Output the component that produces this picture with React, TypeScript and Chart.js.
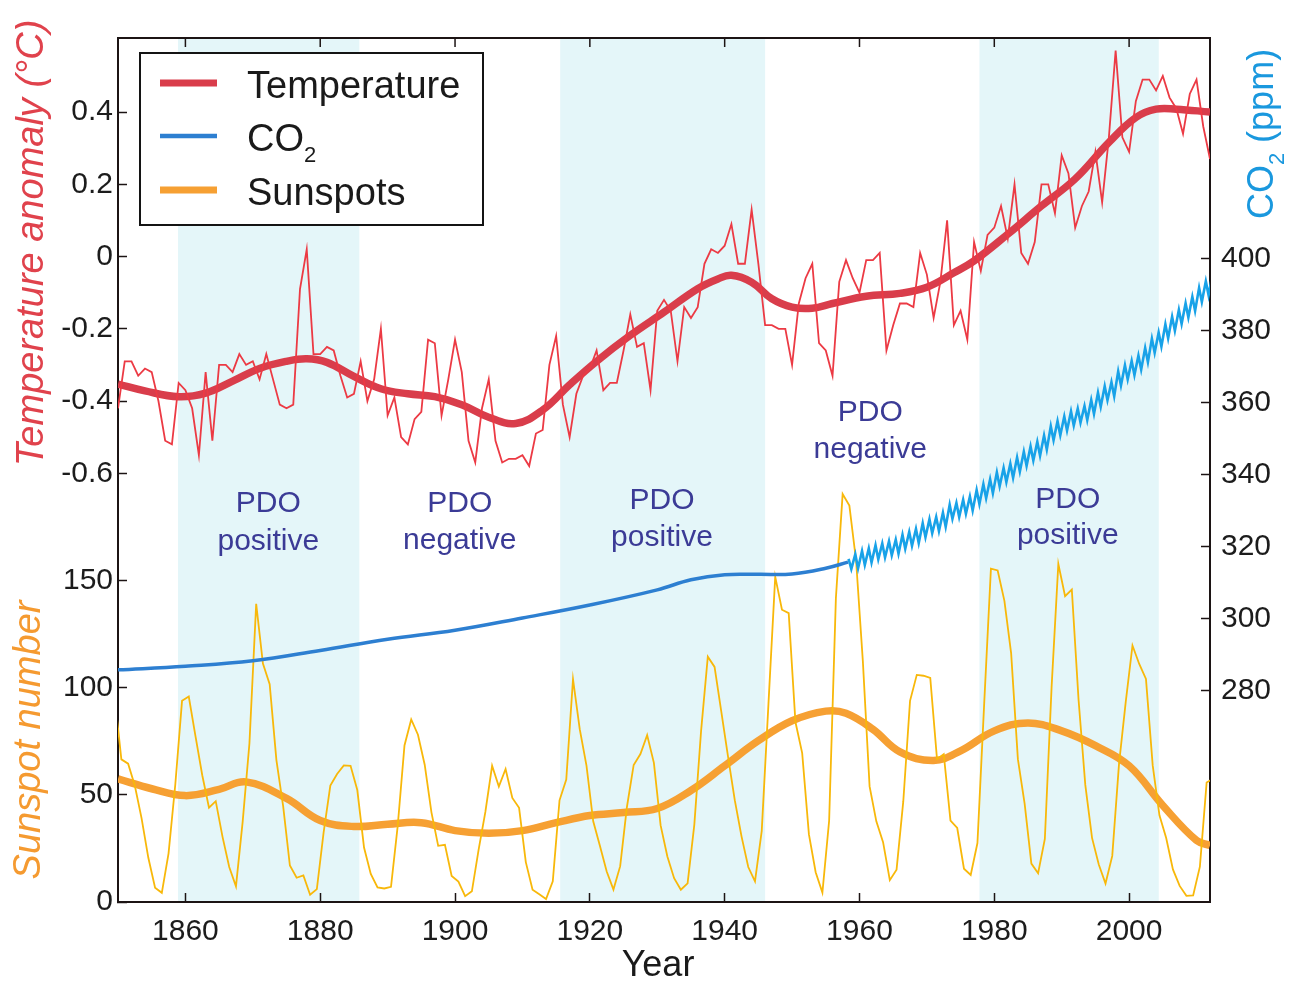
import React, { useEffect, useRef } from "react";
import { Chart, registerables } from "chart.js";

Chart.register(...registerables);

const FONT = '"Liberation Sans", Arial, Helvetica, sans-serif';

// ---------------- data ----------------
const temperatureStartYear = 1850;
const temperatureAnomaly = [
  -0.42, -0.29, -0.29, -0.33, -0.31, -0.32, -0.40, -0.51, -0.52, -0.35,
  -0.37, -0.42, -0.55, -0.32, -0.51, -0.30, -0.30, -0.32, -0.27, -0.30,
  -0.29, -0.34, -0.27, -0.34, -0.41, -0.42, -0.41, -0.09, 0.02, -0.27,
  -0.27, -0.25, -0.26, -0.33, -0.39, -0.38, -0.29, -0.40, -0.34, -0.20,
  -0.44, -0.39, -0.50, -0.52, -0.45, -0.43, -0.23, -0.24, -0.44, -0.34,
  -0.23, -0.32, -0.51, -0.57, -0.42, -0.34, -0.51, -0.57, -0.56, -0.56,
  -0.55, -0.58, -0.49, -0.48, -0.30, -0.22, -0.41, -0.50, -0.38, -0.33,
  -0.31, -0.26, -0.37, -0.35, -0.35, -0.26, -0.16, -0.25, -0.24, -0.37,
  -0.15, -0.12, -0.15, -0.29, -0.14, -0.17, -0.14, -0.02, 0.02, 0.01,
  0.03, 0.09, -0.02, -0.02, 0.13, -0.02, -0.19, -0.19, -0.20, -0.20,
  -0.30, -0.13, -0.06, -0.02, -0.24, -0.26, -0.33, -0.07, -0.01, -0.06,
  -0.10, -0.01, -0.01, 0.01, -0.26, -0.19, -0.13, -0.13, -0.14, 0.01,
  -0.05, -0.17, -0.07, 0.10, -0.19, -0.15, -0.23, 0.04, -0.04, 0.06,
  0.08, 0.14, 0.05, 0.20, 0.01, -0.02, 0.04, 0.20, 0.20, 0.12,
  0.28, 0.23, 0.08, 0.14, 0.18, 0.29, 0.15, 0.33, 0.57, 0.33,
  0.29, 0.43, 0.49, 0.49, 0.46, 0.50, 0.44, 0.41, 0.34, 0.45,
  0.49, 0.36, 0.27,
];

const temperatureSmoothYears = [
  1850, 1854, 1859, 1863, 1867, 1871, 1875, 1878, 1881, 1885, 1889, 1893, 1897, 1901,
  1905, 1909, 1913, 1917, 1921, 1926, 1931, 1936, 1939, 1941, 1944, 1947, 1950, 1953,
  1956, 1961, 1966, 1970, 1974, 1977, 1982, 1987, 1992, 1997, 2001, 2004, 2007, 2012,
];
const temperatureSmooth = [
  -0.353, -0.372, -0.388, -0.378, -0.345, -0.31, -0.29, -0.283, -0.293, -0.332, -0.366, -0.38, -0.388, -0.41,
  -0.445, -0.462, -0.425, -0.355, -0.29, -0.218, -0.154, -0.089, -0.062, -0.052, -0.071, -0.117, -0.14, -0.143,
  -0.13, -0.11, -0.102, -0.085, -0.045, -0.012, 0.062, 0.14, 0.215, 0.316, 0.385, 0.408, 0.408, 0.40,
];

const co2IceYears = [1850, 1860, 1870, 1880, 1890, 1900, 1910, 1920, 1930, 1935, 1940, 1945, 1950, 1955, 1958.3];
const co2Ice = [285.8, 286.8, 288.3, 291.2, 294.3, 296.8, 300.2, 303.8, 308.0, 310.8, 312.2, 312.3, 312.4, 314.0, 315.7];

const co2MaunaLoaStartYear = 1958;
const co2MaunaLoaPeaks = [
  316.6, 317.9, 318.8, 319.5, 320.4, 320.9, 321.5, 321.9, 323.3, 324.1,
  324.9, 326.5, 327.6, 328.2, 329.4, 331.6, 332.1, 333.0, 333.9, 335.7,
  337.3, 338.7, 340.6, 341.8, 343.0, 344.7, 346.3, 347.8, 349.1, 350.8,
  353.4, 354.8, 356.1, 357.5, 358.3, 359.0, 360.7, 362.7, 364.5, 365.6,
  368.6, 370.3, 371.5, 373.0, 375.1, 377.7, 379.4, 381.7, 383.8, 385.7,
  387.5, 389.3, 391.8, 393.6, 395.8,
];
const co2MaunaLoaTroughs = [
  313.8, 314.0, 314.9, 315.6, 316.5, 317.0, 317.6, 318.0, 319.4, 320.2,
  321.0, 322.6, 323.7, 324.3, 325.5, 327.7, 328.2, 329.1, 330.0, 331.8,
  333.4, 334.8, 336.7, 337.9, 339.1, 340.8, 342.4, 343.9, 345.2, 346.9,
  349.5, 350.9, 352.2, 353.6, 354.4, 355.1, 356.8, 358.8, 360.6, 361.7,
  364.7, 366.4, 367.6, 369.1, 371.2, 373.8, 375.5, 377.8, 379.9, 381.8,
  383.6, 385.4, 387.9, 389.7, 391.9,
];

const sunspotStartYear = 1849;
const sunspotNumbers = [
  95.8,
  66.5, 64.5, 54.2, 39.0, 20.6, 6.7, 4.3, 22.7, 54.8, 93.8,
  95.8, 77.2, 59.1, 44.0, 47.0, 30.5, 16.3, 7.3, 37.6, 74.0,
  139.0, 111.2, 101.6, 66.2, 44.7, 17.0, 11.3, 12.4, 3.4, 6.0,
  32.3, 54.3, 59.7, 63.7, 63.5, 52.2, 25.4, 13.1, 6.8, 6.3,
  7.1, 35.6, 73.0, 85.1, 78.0, 64.0, 41.8, 26.2, 26.7, 12.1,
  9.5, 2.7, 5.0, 24.4, 42.0, 63.5, 53.8, 62.0, 48.5, 43.9,
  18.6, 5.7, 3.6, 1.4, 9.6, 47.4, 57.1, 103.9, 80.6, 63.6,
  37.6, 26.1, 14.2, 5.8, 16.7, 44.3, 63.9, 69.0, 77.8, 64.9,
  35.7, 21.2, 11.1, 5.7, 8.7, 36.1, 79.7, 114.4, 109.6, 88.8,
  67.8, 47.5, 30.6, 16.3, 9.6, 33.2, 92.6, 151.6, 136.3, 134.7,
  83.9, 69.4, 31.5, 13.9, 4.4, 38.0, 141.7, 190.2, 184.8, 159.0,
  112.3, 53.9, 37.6, 27.9, 10.2, 15.1, 47.0, 93.8, 105.9, 105.5,
  104.5, 66.6, 68.9, 38.0, 34.5, 15.5, 12.6, 27.5, 92.5, 155.4,
  154.6, 140.4, 115.9, 66.6, 45.9, 17.9, 13.4, 29.4, 100.2, 157.6,
  142.6, 145.7, 94.3, 54.6, 29.9, 17.5, 8.6, 21.5, 64.3, 93.3,
  119.6, 111.0, 104.0, 63.7, 40.4, 29.8, 15.2, 7.5, 2.9, 3.1,
  16.5, 55.7, 57.6,
];

const sunspotSmoothYears = [
  1850, 1855, 1860, 1865, 1869, 1875, 1880, 1885, 1890, 1895, 1900, 1905, 1910, 1915,
  1920, 1925, 1930, 1935, 1940, 1945, 1950, 1955, 1958, 1962, 1966, 1971, 1975, 1980,
  1985, 1990, 1995, 2000, 2005, 2010, 2012,
];
const sunspotSmooth = [
  57.4, 52.8, 49.6, 52.5, 56.0, 48.3, 38.0, 35.2, 36.3, 37.0, 33.3, 32.0, 33.3, 37.0,
  40.3, 41.7, 43.6, 52.0, 63.5, 75.2, 84.5, 89.0, 88.0, 80.5, 70.0, 66.0, 70.5, 79.8,
  83.5, 79.8, 72.9, 63.5, 45.0, 28.7, 26.4,
];

const yearTicks = [1860, 1880, 1900, 1920, 1940, 1960, 1980, 2000];
const temperatureTicks = [-0.6, -0.4, -0.2, 0, 0.2, 0.4];
const sunspotTicks = [0, 50, 100, 150];
const co2Ticks = [280, 300, 320, 340, 360, 380, 400];

const pdoBands = [
  [1858.9, 1885.8],
  [1915.6, 1946.0],
  [1977.8, 2004.4],
];

// annotation layout: year for x, CO2-axis level for the two text baselines
const pdoLabels = [
  { year: 1872.3, phase: "positive", top: 329.5, bottom: 319.0 },
  { year: 1900.7, phase: "negative", top: 329.5, bottom: 319.3 },
  { year: 1930.7, phase: "positive", top: 330.3, bottom: 320.1 },
  { year: 1961.6, phase: "negative", top: 354.9, bottom: 344.7 },
  { year: 1990.9, phase: "positive", top: 330.6, bottom: 320.7 },
];

// ---------------- styles ----------------
const AXIS_COLOR = "#1c1414";
const TICK_TEXT = "#1c1c1c";
const BAND_COLOR = "#e4f6f9";
const RED_THIN = "#ec3a44";
const RED_THICK = "#d93d4b";
const YELLOW_THIN = "#f8b80a";
const ORANGE_THICK = "#f6a033";
const BLUE_ICE = "#2d7fd1";
const BLUE_ML = "#18a2e8";
const PDO_COLOR = "#3b3b96";

function setTicks(values: number[]) {
  return (scale: any) => {
    scale.ticks = values.map((v) => ({ value: v }));
  };
}

function drawSubText(ctx: CanvasRenderingContext2D, parts: { t: string; sub?: boolean }[], x: number, y: number, size: number, subSize: number, align: "left" | "center") {
  const widths = parts.map((p) => {
    ctx.font = `${p.sub ? subSize : size}px ${FONT}`;
    return ctx.measureText(p.t).width;
  });
  const total = widths.reduce((a, b) => a + b, 0);
  let cx = align === "center" ? x - total / 2 : x;
  ctx.textAlign = "left";
  parts.forEach((p, i) => {
    ctx.font = `${p.sub ? subSize : size}px ${FONT}`;
    ctx.fillText(p.t, cx, p.sub ? y + size * 0.3 : y);
    cx += widths[i];
  });
}

const decorPlugin = {
  id: "decor",
  beforeDraw(chart: any) {
    const { ctx, chartArea: a, scales } = chart;
    ctx.save();
    ctx.fillStyle = BAND_COLOR;
    for (const [s, e] of pdoBands) {
      const x0 = scales.x.getPixelForValue(s);
      const x1 = scales.x.getPixelForValue(e);
      ctx.fillRect(x0, a.top, x1 - x0, a.bottom - a.top);
    }
    ctx.restore();
  },
  afterDraw(chart: any) {
    const { ctx, chartArea: a, scales } = chart;
    ctx.save();
    // top frame and top tick marks
    ctx.strokeStyle = AXIS_COLOR;
    ctx.lineWidth = 2;
    ctx.beginPath();
    ctx.moveTo(a.left - 1, a.top);
    ctx.lineTo(a.right + 1, a.top);
    ctx.stroke();
    ctx.lineWidth = 1.5;
    for (const v of yearTicks) {
      const px = scales.x.getPixelForValue(v);
      ctx.beginPath();
      ctx.moveTo(px, a.top);
      ctx.lineTo(px, a.top + 9);
      ctx.stroke();
    }

    // PDO labels
    ctx.fillStyle = PDO_COLOR;
    ctx.font = `30px ${FONT}`;
    ctx.textAlign = "center";
    ctx.textBaseline = "alphabetic";
    for (const l of pdoLabels) {
      const px = scales.x.getPixelForValue(l.year);
      ctx.fillText("PDO", px, scales.yC.getPixelForValue(l.top));
      ctx.fillText(l.phase, px, scales.yC.getPixelForValue(l.bottom));
    }

    // legend
    ctx.fillStyle = "#ffffff";
    ctx.fillRect(140, 53, 343, 172);
    ctx.strokeStyle = "#141414";
    ctx.lineWidth = 2;
    ctx.strokeRect(140, 53, 343, 172);
    const legendRows = [
      { color: RED_THICK, width: 7, y: 83, parts: [{ t: "Temperature" }] },
      { color: BLUE_ICE, width: 4.5, y: 136, parts: [{ t: "CO" }, { t: "2", sub: true }] },
      { color: ORANGE_THICK, width: 7, y: 190, parts: [{ t: "Sunspots" }] },
    ];
    for (const r of legendRows) {
      ctx.strokeStyle = r.color;
      ctx.lineWidth = r.width;
      ctx.beginPath();
      ctx.moveTo(160, r.y);
      ctx.lineTo(217, r.y);
      ctx.stroke();
      ctx.fillStyle = "#1a1a1a";
      drawSubText(ctx, r.parts, 247, r.y + 15, 38, 22, "left");
    }

    // axis titles
    ctx.fillStyle = "#e0424c";
    ctx.font = `italic 38px ${FONT}`;
    ctx.textAlign = "center";
    ctx.save();
    ctx.translate(43, 243);
    ctx.rotate(-Math.PI / 2);
    ctx.fillText("Temperature anomaly (\u00B0C)", 0, 0);
    ctx.restore();

    ctx.fillStyle = "#f59a30";
    ctx.save();
    ctx.translate(40, 740);
    ctx.rotate(-Math.PI / 2);
    ctx.font = `italic 38px ${FONT}`;
    ctx.textAlign = "center";
    ctx.fillText("Sunspot number", 0, 0);
    ctx.restore();

    ctx.fillStyle = "#1a98de";
    ctx.save();
    ctx.translate(1273, 134);
    ctx.rotate(-Math.PI / 2);
    drawSubText(ctx, [{ t: "CO" }, { t: "2", sub: true }, { t: " (ppm)" }], 0, 0, 36, 22, "center");
    ctx.restore();

    ctx.fillStyle = "#1a1a1a";
    ctx.font = `36px ${FONT}`;
    ctx.textAlign = "center";
    ctx.fillText("Year", (a.left + a.right) / 2 - 6, 976);

    ctx.restore();
  },
};

export default function App() {
  const ref = useRef<HTMLCanvasElement>(null);

  useEffect(() => {
    const canvas = ref.current;
    if (!canvas) return;

    const tempPoints = temperatureAnomaly.map((v, i) => ({ x: temperatureStartYear + i, y: v }));
    const tempSmoothPoints = temperatureSmooth.map((v, i) => ({ x: temperatureSmoothYears[i], y: v }));
    const co2IcePoints = co2Ice.map((v, i) => ({ x: co2IceYears[i], y: v }));
    const co2MlPoints: { x: number; y: number }[] = [];
    co2MaunaLoaPeaks.forEach((p, i) => {
      const yr = co2MaunaLoaStartYear + i;
      co2MlPoints.push({ x: yr + 0.38, y: p });
      co2MlPoints.push({ x: yr + 0.79, y: co2MaunaLoaTroughs[i] });
    });
    const sunPoints = sunspotNumbers.map((v, i) => ({ x: sunspotStartYear + i + 0.5, y: v }));
    const sunSmoothPoints = sunspotSmooth.map((v, i) => ({ x: sunspotSmoothYears[i], y: v }));

    const tickFont = { family: FONT, size: 30 };
    const gridCommon = {
      drawOnChartArea: false,
      drawTicks: true,
      tickLength: -9,
      tickColor: AXIS_COLOR,
      tickWidth: 1.5,
      color: AXIS_COLOR,
    };
    const borderCommon = { display: true, color: AXIS_COLOR, width: 2 };

    const chart = new Chart(canvas, {
      type: "line",
      data: {
        datasets: [
          { label: "Temperature", data: tempPoints, yAxisID: "yT", borderColor: RED_THIN, borderWidth: 1.8, tension: 0, order: 1 },
          { label: "Temperature smooth", data: tempSmoothPoints, yAxisID: "yT", borderColor: RED_THICK, borderWidth: 7.5, tension: 0.4, borderJoinStyle: "round", order: 2 },
          { label: "CO2 ice core", data: co2IcePoints, yAxisID: "yC", borderColor: BLUE_ICE, borderWidth: 3.5, tension: 0.4, order: 3 },
          { label: "CO2 Mauna Loa", data: co2MlPoints, yAxisID: "yC", borderColor: BLUE_ML, borderWidth: 2.6, tension: 0, order: 3 },
          { label: "Sunspots", data: sunPoints, yAxisID: "yS", borderColor: YELLOW_THIN, borderWidth: 1.8, tension: 0, order: 4 },
          { label: "Sunspots smooth", data: sunSmoothPoints, yAxisID: "yS", borderColor: ORANGE_THICK, borderWidth: 7.5, tension: 0.4, borderJoinStyle: "round", order: 5 },
        ] as any,
      },
      options: {
        responsive: false,
        animation: false,
        devicePixelRatio: 1,
        elements: { point: { radius: 0, hoverRadius: 0 }, line: { fill: false } },
        layout: { padding: { top: 35, left: 0, right: 0, bottom: 0 } },
        plugins: { legend: { display: false }, tooltip: { enabled: false } },
        events: [],
        scales: {
          x: {
            type: "linear",
            position: "bottom",
            min: 1850,
            max: 2012,
            afterBuildTicks: setTicks(yearTicks),
            afterFit: (s: any) => { s.height = 79; },
            ticks: { font: tickFont, color: TICK_TEXT, padding: 21, autoSkip: false, maxRotation: 0, callback: (v: any) => String(v) },
            grid: gridCommon,
            border: borderCommon,
          },
          yT: {
            type: "linear",
            position: "left",
            stack: "left",
            stackWeight: 485,
            weight: 1,
            clip: false,
            min: -0.733,
            max: 0.605,
            afterBuildTicks: setTicks(temperatureTicks),
            afterFit: (s: any) => { s.width = 118; },
            ticks: { font: tickFont, color: TICK_TEXT, padding: 14, autoSkip: false, callback: (v: any) => String(v) },
            grid: gridCommon,
            border: borderCommon,
          },
          yS: {
            type: "linear",
            position: "left",
            stack: "left",
            stackWeight: 382,
            weight: 0,
            clip: false,
            min: 0,
            max: 177.5,
            afterBuildTicks: setTicks(sunspotTicks),
            afterFit: (s: any) => { s.width = 118; },
            ticks: { font: tickFont, color: TICK_TEXT, padding: 14, autoSkip: false, callback: (v: any) => String(v) },
            grid: gridCommon,
            border: borderCommon,
          },
          yC: {
            type: "linear",
            position: "right",
            clip: false,
            min: 221.4,
            max: 461.1,
            afterBuildTicks: setTicks(co2Ticks),
            afterFit: (s: any) => { s.width = 82; },
            ticks: { font: tickFont, color: TICK_TEXT, padding: 20, autoSkip: false, callback: (v: any) => String(v) },
            grid: gridCommon,
            border: borderCommon,
          },
        } as any,
      },
      plugins: [decorPlugin as any],
    });

    return () => chart.destroy();
  }, []);

  return (
    <div style={{ position: "absolute", left: 0, top: 0, width: 1292, height: 981, background: "#ffffff" }}>
      <canvas ref={ref} width={1292} height={981} style={{ display: "block", width: 1292, height: 981 }} />
    </div>
  );
}
